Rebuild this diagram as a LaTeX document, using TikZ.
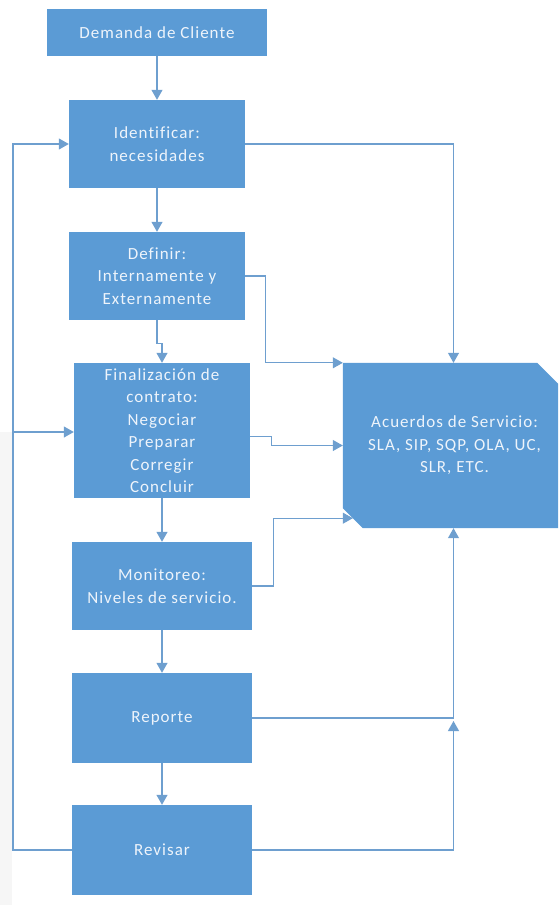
\documentclass[tikz,border=0pt]{standalone}
\usepackage{fontspec}
\setmainfont{Carlito}[LetterSpace=6, Ligatures=NoCommon]
\usetikzlibrary{arrows.meta,calc}
\definecolor{boxblue}{HTML}{5B9BD5}
\definecolor{boxtext}{HTML}{EEF4FB}
\definecolor{edge}{HTML}{6E9FCF}
\tikzset{
  stepbox/.style={fill=boxblue, text=boxtext, align=center, inner sep=0pt,
    font=\fontsize{17}{22.5}\selectfont},
  link/.style={draw=edge, line width=1.1pt},
  flow/.style={link, -{Triangle[length=10pt,width=11pt]}},
}
\begin{document}
\begin{tikzpicture}[x=1pt,y=-1pt]
\useasboundingbox (0,0) rectangle (559,905);
% light strip along the left edge
\fill[gray!7] (0,432) rectangle (12,905);

% process boxes
\node[stepbox, minimum width=220, minimum height=47] (dem) at (157,32.5) {Demanda de Cliente};
\node[stepbox, minimum width=176, minimum height=88] (idn) at (157,144) {Identificar:\\necesidades};
\node[stepbox, minimum width=176, minimum height=88] (def) at (157,276) {Definir:\\Internamente y\\Externamente};
\node[stepbox, minimum width=176, minimum height=135] (fin) at (162,430.5) {Finalización de\\contrato:\\Negociar\\Preparar\\Corregir\\Concluir};
\node[stepbox, minimum width=180, minimum height=88] (mon) at (162,586) {Monitoreo:\\Niveles de servicio.};
\node[stepbox, minimum width=180, minimum height=90] (rep) at (162,718) {Reporte};
\node[stepbox, minimum width=180, minimum height=90] (rev) at (162,850) {Revisar};

% agreements box with two snipped corners
\node[minimum width=215, minimum height=165, inner sep=0pt] (acu) at (450.5,445.5) {};
\fill[boxblue] (acu.north west) -- ($(acu.north east)+(-21,0)$) -- ($(acu.north east)+(0,21)$)
  -- (acu.south east) -- ($(acu.south west)+(20,0)$) -- ($(acu.south west)+(0,-20)$) -- cycle;
\node[text=boxtext, align=center, font=\fontsize{17}{22.5}\selectfont] (acutxt) at ([xshift=4pt]acu.center)
  {Acuerdos de Servicio:\\SLA, SIP, SQP, OLA, UC,\\SLR, ETC.};
\coordinate (acusw) at ($(acu.south west)+(10,-10)$);

% main sequence
\draw[flow] (dem) -- (idn);
\draw[flow] (idn) -- (def);
\draw[flow] (def.south) -- ++(0,23) -| (fin.north);
\draw[flow] (fin) -- (mon);
\draw[flow] (mon) -- (rep);
\draw[flow] (rep) -- (rev);

% links into the agreements
\draw[flow] (idn.east) -| ([xshift=3pt]acu.north);
\draw[flow] (def.east) -- ++(20,0) |- (acu.north west);
\draw[flow] ([yshift=-6pt]fin.east) -- ++(21,0) |- (acu.west);
\draw[flow] (mon.east) -- ++(21,0) |- (acusw);
\coordinate (jn) at ([xshift=3pt]acu.south |- rep.east);
\draw[flow] (rep.east) -- (jn) -- ([xshift=3pt]acu.south);
\draw[flow] (rev.east) -| ([yshift=-3pt]jn);

% feedback loop from the review
\coordinate (back) at (13,850);
\draw[flow] (rev.west) -- (back) |- (idn.west);
\draw[flow] ([yshift=-1.5pt]back |- fin.west) -- ([yshift=-1.5pt]fin.west);
\end{tikzpicture}
\end{document}
